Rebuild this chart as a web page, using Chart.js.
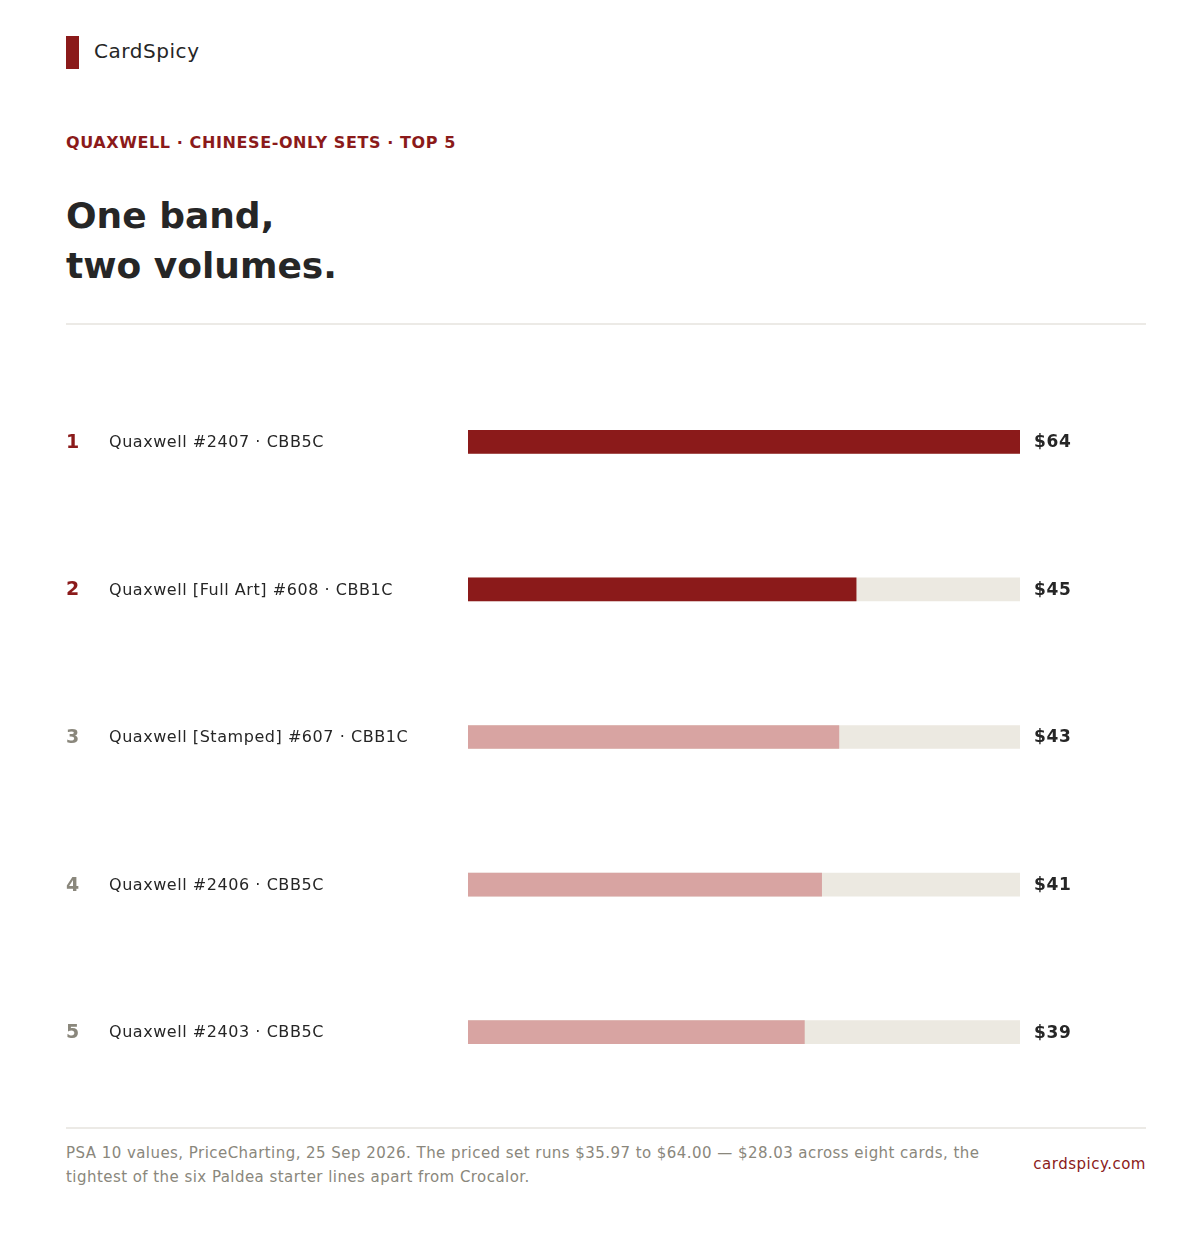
<!DOCTYPE html>
<html>
<head>
<meta charset="utf-8">
<script src="https://cdn.jsdelivr.net/npm/chart.js@4.4.1/dist/chart.umd.min.js"></script>
<style>
  html, body { margin: 0; padding: 0; background: #fff; }
  body { width: 1200px; height: 1250px; position: relative; font-family: "DejaVu Sans", sans-serif; color: #262626; }
  .brand { position: absolute; left: 66px; top: 36px; height: 33px; }
  .brand .mark { position: absolute; left: 0; top: 0; width: 13px; height: 33px; background: #8b1a1a; }
  .brand .name { position: absolute; left: 28px; top: 3px; font-size: 20px; letter-spacing: 0.55px; line-height: 24px; white-space: nowrap; color: #262626; }
  .eyebrow { position: absolute; left: 66px; top: 133px; font-size: 16px; font-weight: bold; letter-spacing: 0.6px; color: #8b1a1a; white-space: nowrap; }
  h1 { position: absolute; left: 66px; top: 191px; margin: 0; font-size: 36px; line-height: 50px; font-weight: bold; color: #262626; }
  .rule { position: absolute; left: 66px; width: 1080px; height: 2px; background: #eceae6; }
  .chart-wrap { position: absolute; left: 66px; top: 330px; width: 1080px; height: 790px; }
  .foot { position: absolute; left: 66px; top: 1141px; width: 940px; font-size: 15px; letter-spacing: 0.45px; line-height: 24px; color: #8a877c; }
  .site { position: absolute; right: 54px; top: 1155px; font-size: 15px; letter-spacing: 0.5px; color: #8b1a1a; }
</style>
</head>
<body>
<div class="brand"><div class="mark"></div><div class="name">CardSpicy</div></div>
<div class="eyebrow">QUAXWELL · CHINESE-ONLY SETS · TOP 5</div>
<h1>One band,<br>two volumes.</h1>
<div class="rule" style="top:323px"></div>
<div class="chart-wrap"><canvas id="bars"></canvas></div>
<div class="rule" style="top:1127px"></div>
<div class="foot">PSA 10 values, PriceCharting, 25 Sep 2026. The priced set runs $35.97 to $64.00 — $28.03 across eight cards, the tightest of the six Paldea starter lines apart from Crocalor.</div>
<div class="site">cardspicy.com</div>

<script>
const ranks = ["1", "2", "3", "4", "5"];
const cards = [
  "Quaxwell #2407 · CBB5C",
  "Quaxwell [Full Art] #608 · CBB1C",
  "Quaxwell [Stamped] #607 · CBB1C",
  "Quaxwell #2406 · CBB5C",
  "Quaxwell #2403 · CBB5C"
];
const prices = [64, 45, 43, 41, 39];
const price_labels = ["$64", "$45", "$43", "$41", "$39"];
const scale_max = 64;

const red = "#8b1a1a";
const pink = "#d8a4a2";
const track = "#ece9e1";
const grey = "#8a877c";

const bar_colors = prices.map((v, i) => (i < 2 ? red : pink));
const rank_colors = prices.map((v, i) => (i < 2 ? red : grey));

// rank, card name and price drawn beside each row
const rowText = {
  id: "rowText",
  afterDatasetsDraw(chart) {
    const ctx = chart.ctx;
    const y_scale = chart.scales.y;
    const x_scale = chart.scales.x;
    ctx.save();
    ctx.textBaseline = "middle";
    ctx.textAlign = "left";
    cards.forEach((name, i) => {
      const y = y_scale.getPixelForValue(i) + 1;
      ctx.letterSpacing = "0px";
      ctx.font = "bold 19px 'DejaVu Sans'";
      ctx.fillStyle = rank_colors[i];
      ctx.fillText(ranks[i], 0, y);
      ctx.letterSpacing = "0.55px";
      ctx.font = "16px 'DejaVu Sans'";
      ctx.fillStyle = "#262626";
      ctx.fillText(name, 43, y);
      ctx.letterSpacing = "0.7px";
      ctx.font = "bold 17px 'DejaVu Sans'";
      ctx.fillText(price_labels[i], x_scale.getPixelForValue(scale_max) + 14, y);
    });
    ctx.restore();
  },
};

new Chart(document.getElementById("bars"), {
  type: "bar",
  data: {
    labels: cards,
    datasets: [
      {
        label: "Price",
        data: prices,
        backgroundColor: bar_colors,
        barThickness: 23,
        grouped: false,
        order: 1,
      },
      {
        label: "Track",
        data: cards.map(() => scale_max),
        backgroundColor: track,
        barThickness: 23,
        grouped: false,
        order: 2,
      },
    ],
  },
  options: {
    indexAxis: "y",
    animation: { duration: 0 },
    responsive: true,
    maintainAspectRatio: false,
    layout: { padding: { left: 402, right: 126, top: 38, bottom: 14 } },
    plugins: { legend: { display: false }, tooltip: { enabled: false } },
    scales: {
      x: { min: 0, max: scale_max, display: false },
      y: { display: false },
    },
  },
  plugins: [rowText],
});
</script>
</body>
</html>
